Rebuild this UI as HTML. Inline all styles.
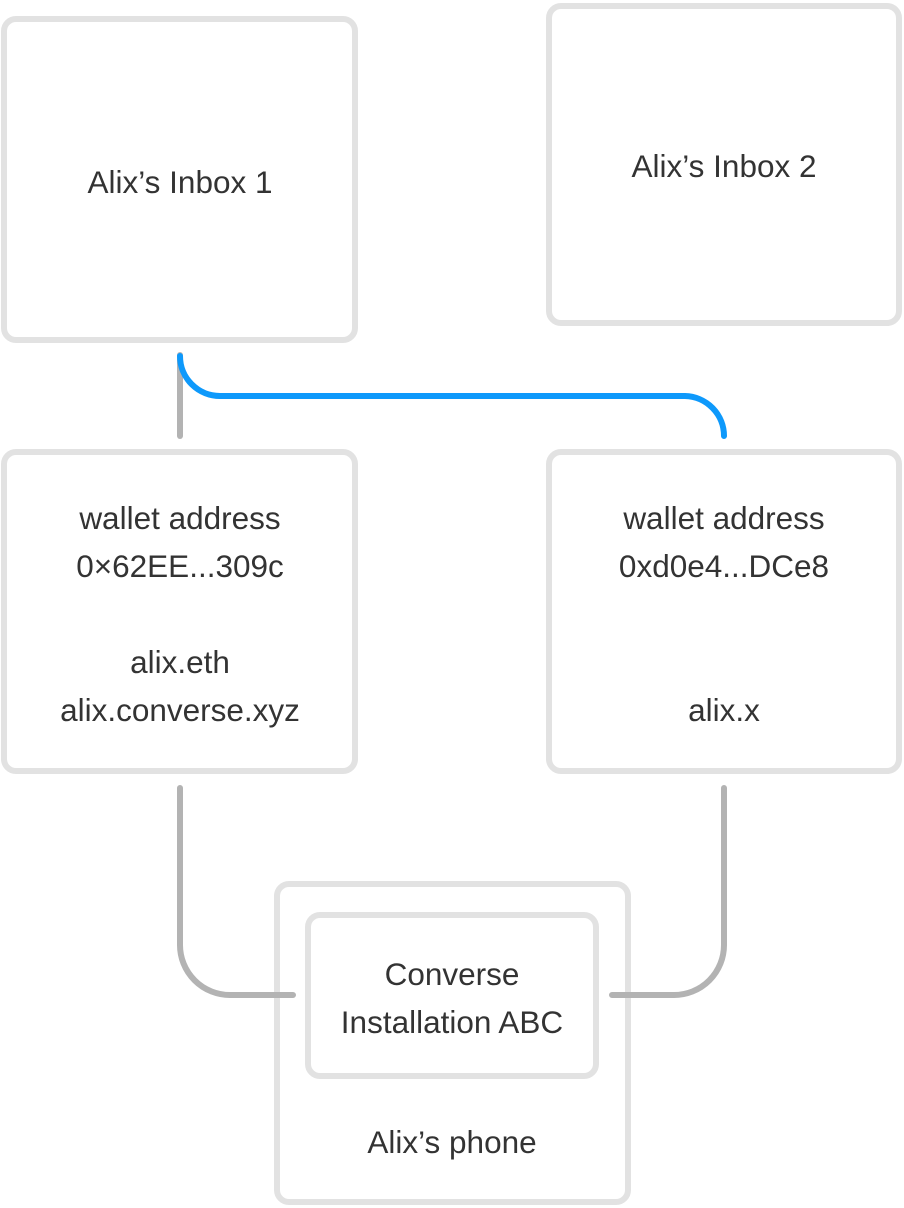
<!DOCTYPE html>
<html><head><style>
body{margin:0;background:#fff;width:904px;height:1208px;overflow:hidden}
svg{display:block}
text{font-family:"Liberation Sans",Arial,sans-serif;font-size:31.5px;fill:#333;text-anchor:middle}
</style></head><body>
<svg width="904" height="1208" viewBox="0 0 904 1208">
<g fill="none" stroke="#e2e2e2" stroke-width="6">
<rect x="4" y="19" width="351" height="321" rx="12"/>
<rect x="549" y="6" width="350" height="317" rx="12"/>
<rect x="4" y="452" width="351" height="319" rx="12"/>
<rect x="549" y="452" width="350" height="319" rx="12"/>
<rect x="277" y="884" width="351" height="318" rx="12"/>
<rect x="308" y="915" width="288" height="161" rx="12"/>
</g>
<g fill="none" stroke="#b3b3b3" stroke-width="6" stroke-linecap="round">
<path d="M180 355 V436"/>
<path d="M180 788 V945 A50 50 0 0 0 230 995 H293"/>
<path d="M724 788 V945 A50 50 0 0 1 674 995 H612"/>
</g>
<path d="M180 356 A40 40 0 0 0 220 396 H685 A40 40 0 0 1 724 436" fill="none" stroke="#0e99fb" stroke-width="6" stroke-linecap="round"/>
<text x="180" y="193">Alix’s Inbox 1</text>
<text x="724" y="177">Alix’s Inbox 2</text>
<text x="180" y="529">wallet address</text>
<text x="180" y="577">0×62EE...309c</text>
<text x="180" y="673">alix.eth</text>
<text x="180" y="721">alix.converse.xyz</text>
<text x="724" y="529">wallet address</text>
<text x="724" y="577">0xd0e4...DCe8</text>
<text x="724" y="721">alix.x</text>
<text x="452" y="985">Converse</text>
<text x="452" y="1033">Installation ABC</text>
<text x="452" y="1153">Alix’s phone</text>
</svg>
</body></html>
